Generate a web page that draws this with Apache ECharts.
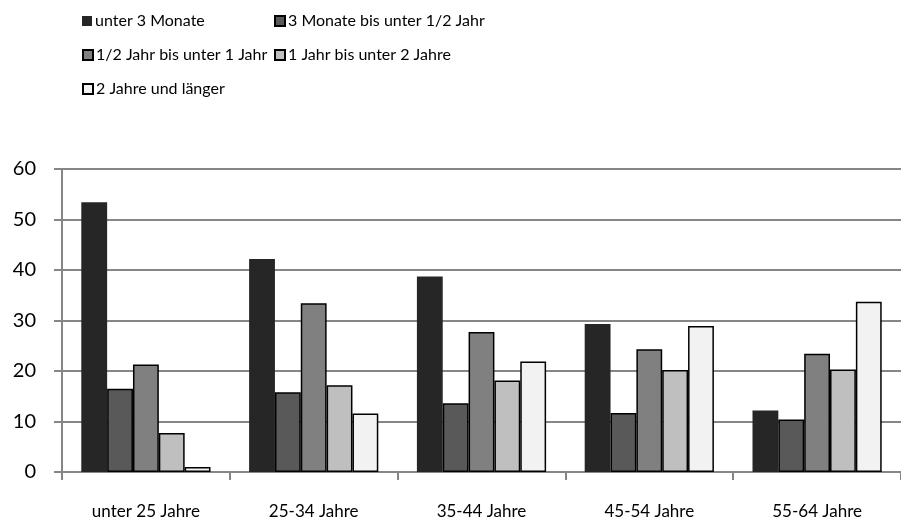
<!DOCTYPE html>
<html>
<head>
<meta charset="utf-8">
<script src="https://cdn.jsdelivr.net/npm/echarts@6/dist/echarts.min.js"></script>
<style>
    html, body { margin: 0; padding: 0; background: #fff; }
    #chart { width: 901px; height: 527px; }
</style>
</head>
<body>
<div id="chart"></div>
<script>
    const categories = ['unter 25 Jahre', '25-34 Jahre', '35-44 Jahre', '45-54 Jahre', '55-64 Jahre']
    const seriesNames = ['unter 3 Monate', '3 Monate bis unter 1/2 Jahr', '1/2 Jahr bis unter 1 Jahr', '1 Jahr bis unter 2 Jahre', '2 Jahre und länger']
    const unter3Monate = [53.4, 42.2, 38.7, 29.3, 12.2]
    const bisHalbesJahr = [16.5, 15.8, 13.6, 11.7, 10.4]
    const bisEinJahr = [21.3, 33.4, 27.7, 24.3, 23.4]
    const bisZweiJahre = [7.7, 17.2, 18.1, 20.2, 20.3]
    const zweiJahreUndLaenger = [1.0, 11.6, 21.9, 28.9, 33.7]
    const yTicks = [0, 10, 20, 30, 40, 50, 60]

    const values = [unter3Monate, bisHalbesJahr, bisEinJahr, bisZweiJahre, zweiJahreUndLaenger]
    const colors = ['#262626', '#595959', '#808080', '#bfbfbf', '#f2f2f2']
    const font = 'Lato, sans-serif'

    // legend positions: two columns, three rows
    const legendPos = [[82, 13], [274, 13], [82, 47], [274, 47], [82, 81]]

    let legends = seriesNames.map((name, i) => ({
        data: [name],
        left: legendPos[i][0],
        top: legendPos[i][1],
        padding: 0,
        itemWidth: 10,
        itemHeight: 10,
        itemGap: 0,
        icon: 'rect',
        selectedMode: false,
        textStyle: { fontFamily: font, fontSize: 16, color: '#000', padding: [0, 0, 0, -2] }
    }))

    let series = seriesNames.map((name, i) => ({
        name: name,
        type: 'bar',
        data: values[i],
        barGap: '0%',
        barCategoryGap: '23%',
        itemStyle: {
            color: colors[i],
            borderColor: i === 0 ? colors[0] : '#000',
            borderWidth: i === 0 ? 0 : 1.5
        }
    }))

    let option = {
        animation: false,
        backgroundColor: '#fff',
        legend: legends,
        grid: { left: 62, right: -11, top: 169, bottom: 55, containLabel: false },
        xAxis: {
            type: 'category',
            data: categories,
            axisLine: { lineStyle: { color: '#868686', width: 2 } },
            axisTick: { show: true, length: 8, lineStyle: { color: '#868686', width: 2 } },
            axisLabel: { fontFamily: font, fontSize: 17, color: '#000', margin: 31 }
        },
        yAxis: {
            type: 'value',
            min: yTicks[0],
            max: yTicks[yTicks.length - 1],
            interval: 10,
            axisLine: { show: true, lineStyle: { color: '#868686', width: 2 } },
            axisTick: { show: true, length: 8, lineStyle: { color: '#868686', width: 2 } },
            splitLine: { lineStyle: { color: '#868686', width: 2 } },
            axisLabel: { fontFamily: font, fontSize: 20, color: '#000', margin: 26 }
        },
        series: series
    }

    let chart = echarts.init(document.getElementById('chart'))
    chart.setOption(option)
</script>
</body>
</html>
